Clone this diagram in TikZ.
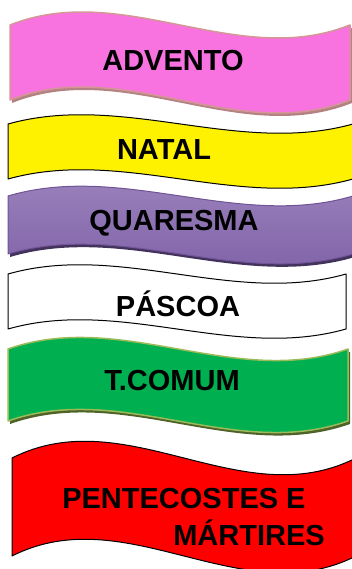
\documentclass[tikz,border=0pt]{standalone}
\usepackage{fontspec}
\setmainfont{Liberation Sans}
\usetikzlibrary{positioning}

\definecolor{advpink}{RGB}{248,114,224}
\definecolor{advline}{RGB}{212,150,150}
\definecolor{advshade}{RGB}{180,130,130}
\definecolor{quartop}{RGB}{158,134,190}
\definecolor{quarbot}{RGB}{124,94,166}
\definecolor{quarline}{RGB}{112,84,150}
\definecolor{quarshade}{RGB}{66,50,92}
\definecolor{comgreen}{RGB}{0,176,80}
\definecolor{comline}{RGB}{155,187,89}
\definecolor{comshade}{RGB}{79,98,40}

% wave banner: x0, x1, top, bottom, bend
\newcommand{\wavepath}[5]{(#1,#3) .. controls ({#1+(#2-#1)/3},{#3-#5}) and ({#1+2*(#2-#1)/3},{#3+#5}) .. (#2,#3) -- (#2,#4) .. controls ({#1+2*(#2-#1)/3},{#4+#5}) and ({#1+(#2-#1)/3},{#4-#5}) .. (#1,#4) -- cycle}

\tikzset{
  season/.style={font=\fontsize{29}{37}\selectfont\bfseries, inner sep=0pt},
  band/.style={line width=1pt, line join=round}
}

\begin{document}
\begin{tikzpicture}[x=1pt,y=-1pt]
        \useasboundingbox (0,0) rectangle (351,569);
        % advento
        \fill [advshade,shift={(2,3)}] \wavepath{10}{350}{25}{100}{45};
        \draw [band,advline,line width=1.5pt,fill=advpink] \wavepath{10}{350}{25}{100}{45};
        \node [season] (advento) at (173,61) {ADVENTO};
        % natal
        \draw [band,fill=yellow] \wavepath{8}{353}{124}{179}{32};
        \node [season] (natal) at (164,150) {NATAL};
        % quaresma
        \fill [quarshade,shift={(2,3)}] \wavepath{8}{353}{196}{254}{34};
        \draw [band,quarline,top color=quartop,bottom color=quarbot] \wavepath{8}{353}{196}{254}{34};
        \node [season] (quaresma) at (174,223) {QUARESMA};
        % pascoa
        \draw [band,fill=white] \wavepath{8}{346}{274}{329}{32};
        \node [season] (pascoa) at (178,304) {PÁSCOA};
        % tempo comum
        \fill [comshade,shift={(2,3)}] \wavepath{8}{348}{349}{421}{40};
        \draw [band,comline,line width=1.5pt,fill=comgreen] \wavepath{8}{348}{349}{421}{40};
        \node [season] (comum) at (172,381) {T.COMUM};
        % pentecostes
        \draw [band,fill=red] \wavepath{12}{356}{458}{556}{58};
        \node [season,align=left] (pentecostes) at (193.5,517) {PENTECOSTES E\\\hspace*{111pt}MÁRTIRES};
    \end{tikzpicture}
\end{document}
